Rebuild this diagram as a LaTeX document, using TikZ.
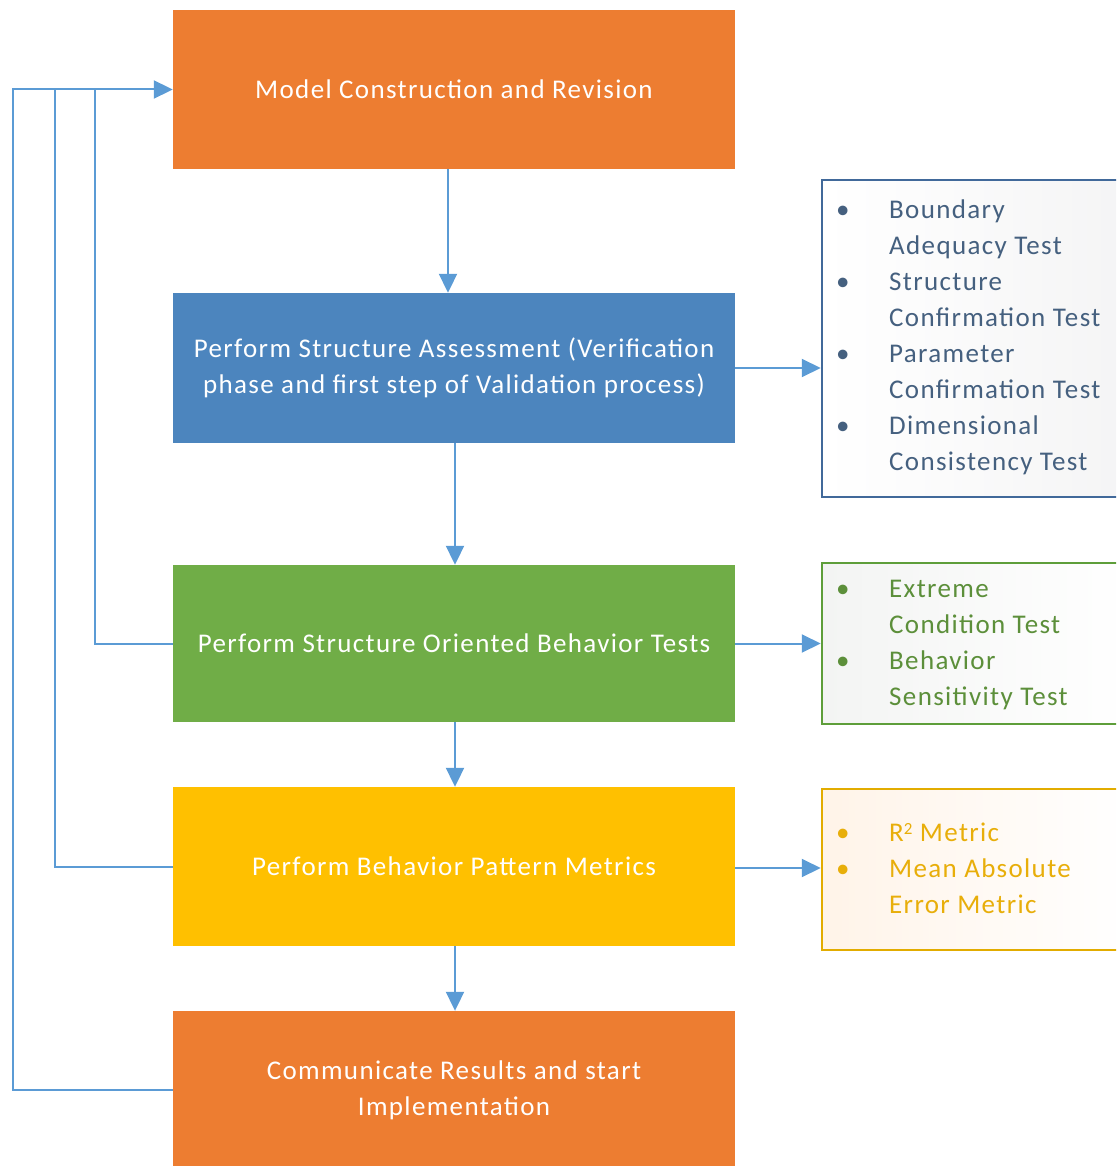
\documentclass[tikz,border=0pt]{standalone}
\usepackage{fontspec}
\setmainfont{Carlito}[LetterSpace=5]
\usetikzlibrary{arrows.meta,calc}
\definecolor{orng}{HTML}{ED7D31}
\definecolor{blu}{HTML}{4C85BE}
\definecolor{grn}{HTML}{70AD47}
\definecolor{ylw}{HTML}{FFC000}
\definecolor{arrc}{HTML}{5B9BD5}
\definecolor{bluborder}{HTML}{41699A}
\definecolor{blutext}{HTML}{45607F}
\definecolor{grnborder}{HTML}{5E9E3A}
\definecolor{grntext}{HTML}{5C8F3A}
\definecolor{ylwborder}{HTML}{E2AC00}
\definecolor{ylwtext}{HTML}{E8AE0A}
\tikzset{
  mainbox/.style={draw=none, minimum width=562pt, inner sep=0pt, text=white, align=center,
    font=\fontsize{27}{36}\selectfont},
  sidebox/.style={line width=2.5pt, minimum width=308pt, inner sep=0pt},
  sidetext/.style={anchor=west, inner sep=0pt, align=left, font=\fontsize{27}{36}\selectfont},
  conn/.style={draw=arrc, line width=2pt},
  arr/.style={conn, -{Triangle[length=19pt,width=18pt]}}
}
\begin{document}
\begin{tikzpicture}[x=1pt,y=-1pt]
\useasboundingbox (0,0) rectangle (1116,1166);
\clip (0,0) rectangle (1116,1166);
% main boxes
\node[mainbox, fill=orng, minimum height=159pt] (b1) at (454,89.5) {Model Construction and Revision};
\node[mainbox, fill=blu, minimum height=150pt] (b2) at (454,368) {Perform Structure Assessment (Verification\\phase and first step of Validation process)};
\node[mainbox, fill=grn, minimum height=157pt] (b3) at (454,643.5) {Perform Structure Oriented Behavior Tests};
\node[mainbox, fill=ylw, minimum height=159pt] (b4) at (454,866.5) {Perform Behavior Pattern Metrics};
\node[mainbox, fill=orng, minimum height=158pt, text height=0pt] (b5) at (454,1090) {};
\node[mainbox, anchor=center] (b5t) at (454,1090) {Communicate Results and start\\Implementation};
% side boxes
\node[sidebox, draw=bluborder, minimum height=317pt, shading=axis, shading angle=135, left color=white, right color=blue!3!gray!8] (s1) at (976,338.5) {};
\node[sidebox, draw=grnborder, minimum height=161pt, shading=axis, shading angle=135, left color=green!5!gray!9, right color=white] (s2) at (976,643.5) {};
\node[sidebox, draw=ylwborder, minimum height=161pt, shading=axis, shading angle=135, left color=orange!9, right color=white] (s3) at (976,869.5) {};
\node[sidetext, text=blutext] (t1) at (836,337) {\begin{tabular}{@{}p{53pt}@{}l@{}}
\textbullet & Boundary\\ & Adequacy Test\\
\textbullet & Structure\\ & Confirmation Test\\
\textbullet & Parameter\\ & Confirmation Test\\
\textbullet & Dimensional\\ & Consistency Test
\end{tabular}};
\node[sidetext, text=grntext] (t2) at (836,644) {\begin{tabular}{@{}p{53pt}@{}l@{}}
\textbullet & Extreme\\ & Condition Test\\
\textbullet & Behavior\\ & Sensitivity Test
\end{tabular}};
\node[sidetext, text=ylwtext] (t3) at (836,870) {\begin{tabular}{@{}p{53pt}@{}l@{}}
\textbullet & R{\fontsize{17}{17}\selectfont\raisebox{7pt}{2}} Metric\\
\textbullet & Mean Absolute\\ & Error Metric
\end{tabular}};
% vertical arrows
\draw[arr] ([xshift=-6pt]b1.south) -- ([xshift=-6pt]b2.north);
\draw[arr] ([xshift=1pt]b2.south) -- ([xshift=1pt]b3.north);
\draw[arr] ([xshift=1pt]b3.south) -- ([xshift=1pt]b4.north);
\draw[arr] ([xshift=1pt]b4.south) -- ([xshift=1pt]b5.north);
% side arrows
\draw[arr] (b2.east) -- (b2.east -| s1.west);
\draw[arr] (b3.east) -- (b3.east -| s2.west);
\draw[arr] (b4.east |- 0,868) -- (s3.west |- 0,868);
% feedback
\draw[conn] (b3.west) -| (95,89.5);
\draw[conn] (b4.west) -| (55,89.5);
\draw[arr] (b5.west) -| (13,89.5) -- (b1.west);
\end{tikzpicture}
\end{document}
